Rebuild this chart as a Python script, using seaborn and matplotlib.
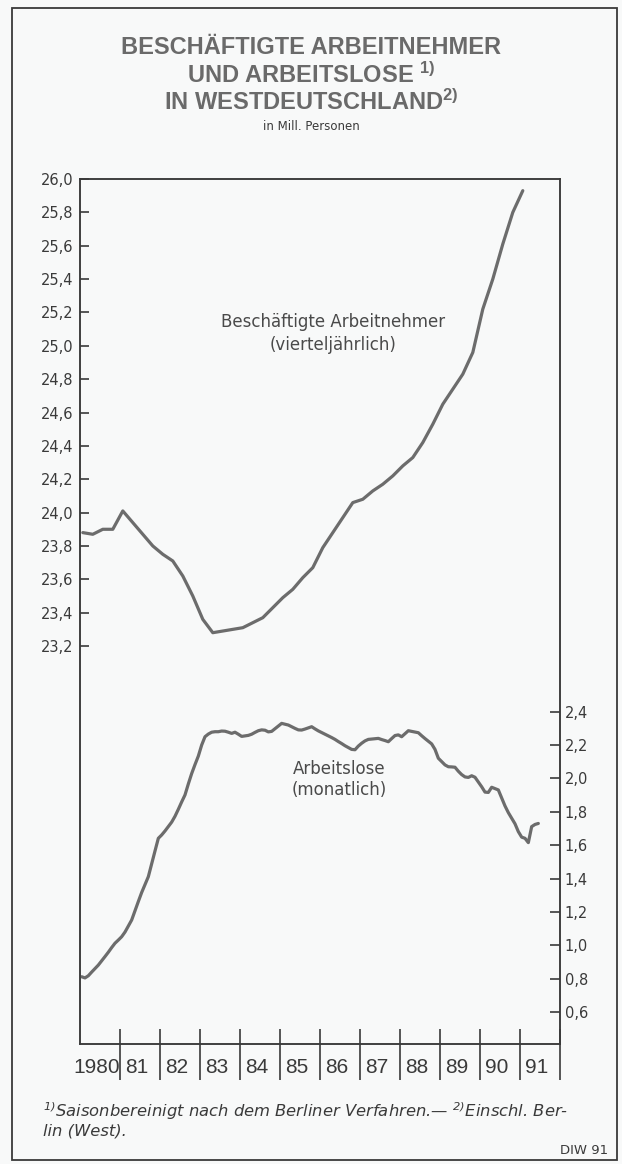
import matplotlib
matplotlib.use("Agg")
import matplotlib.pyplot as plt
from matplotlib.patches import Rectangle
from matplotlib.ticker import FixedLocator
import pandas as pd
import seaborn as sns

# Beschaeftigte Arbeitnehmer, Mill., vierteljaehrlich 1980 Q1 - 1991 Q1
beschaeftigte = [
    23.88, 23.87, 23.90, 23.90, 24.01, 23.94, 23.87, 23.80, 23.75, 23.71,
    23.62, 23.50, 23.36, 23.28, 23.29, 23.30, 23.31, 23.34, 23.37, 23.43,
    23.49, 23.54, 23.61, 23.67, 23.79, 23.88, 23.97, 24.06, 24.08, 24.13,
    24.17, 24.22, 24.28, 24.33, 24.42, 24.53, 24.65, 24.74, 24.83, 24.96,
    25.22, 25.40, 25.61, 25.80, 25.93,
]

# Arbeitslose, Mill., monatlich Jan 1980 - Jun 1991
arbeitslose = [
    0.811, 0.804, 0.817, 0.839, 0.860, 0.881, 0.906, 0.932, 0.958, 0.986, 1.012, 1.031,
    1.051, 1.079, 1.115, 1.151, 1.207, 1.262, 1.316, 1.363, 1.411, 1.489, 1.565, 1.641,
    1.661, 1.685, 1.711, 1.738, 1.773, 1.815, 1.859, 1.901, 1.967, 2.029, 2.083, 2.134,
    2.200, 2.250, 2.266, 2.277, 2.280, 2.280, 2.284, 2.283, 2.277, 2.270, 2.277, 2.265,
    2.252, 2.255, 2.258, 2.265, 2.276, 2.286, 2.291, 2.289, 2.279, 2.282, 2.298, 2.314,
    2.330, 2.325, 2.320, 2.310, 2.300, 2.291, 2.290, 2.296, 2.303, 2.310, 2.297, 2.285,
    2.275, 2.265, 2.255, 2.245, 2.234, 2.221, 2.209, 2.196, 2.185, 2.174, 2.172, 2.194,
    2.211, 2.225, 2.234, 2.236, 2.238, 2.240, 2.233, 2.227, 2.220, 2.239, 2.257, 2.261,
    2.250, 2.268, 2.286, 2.282, 2.278, 2.274, 2.256, 2.239, 2.223, 2.207, 2.174, 2.121,
    2.101, 2.081, 2.070, 2.069, 2.067, 2.043, 2.023, 2.009, 2.006, 2.016, 2.007, 1.979,
    1.950, 1.918, 1.916, 1.947, 1.939, 1.931, 1.883, 1.835, 1.795, 1.761, 1.728, 1.681,
    1.648, 1.641, 1.615, 1.711, 1.724, 1.730,
]

years = list(range(1980, 1992))
year_labels = ["1980", "81", "82", "83", "84", "85", "86", "87", "88", "89", "90", "91"]
left_ticks = [23.2, 23.4, 23.6, 23.8, 24.0, 24.2, 24.4, 24.6, 24.8, 25.0,
              25.2, 25.4, 25.6, 25.8, 26.0]
right_ticks = [0.6, 0.8, 1.0, 1.2, 1.4, 1.6, 1.8, 2.0, 2.2, 2.4]

quarters = pd.period_range("1980Q1", periods=len(beschaeftigte), freq="Q")
df_b = pd.DataFrame({"zeit": quarters.year + (quarters.quarter - 1) / 4 + 0.07,
                     "wert": beschaeftigte})
months = pd.period_range("1980-01", periods=len(arbeitslose), freq="M")
df_a = pd.DataFrame({"zeit": months.year + (months.month - 0.5) / 12,
                     "wert": arbeitslose})

sns.set_style("white")
plt.rcParams["font.family"] = ["DejaVu Sans"]
plt.rcParams["mathtext.default"] = "regular"

bg = "#f8f9f9"
ink = "#3a3a3a"
line_c = "#6c6c6c"
W, H = 622, 1164

fig = plt.figure(figsize=(W / 100, H / 100), dpi=100, facecolor=bg)
ax = fig.add_axes([80 / W, 1 - 1044 / H, 480 / W, 865 / H], facecolor=bg)

sns.lineplot(data=df_b, x="zeit", y="wert", ax=ax, color=line_c, linewidth=2.3)
ax2 = ax.twinx()
sns.lineplot(data=df_a, x="zeit", y="wert", ax=ax2, color=line_c, linewidth=2.3)

px = 166.8  # pixel per Mill.
ax.set_xlim(1980, 1992)
ax.set_ylim(26.0 - 865 / px, 26.0)
ax2.set_ylim(2.4 - (1044 - 711.7) / px, 2.4 + (711.7 - 179) / px)
for a in (ax, ax2):
    a.set_xlabel("")
    a.set_ylabel("")
    for s in a.spines.values():
        s.set_color(ink)
        s.set_linewidth(1.1)

# y axes
ax.set_yticks(left_ticks, [f"{v:.1f}".replace(".", ",") for v in left_ticks])
ax.tick_params(axis="y", left=True, direction="in", length=6.5, width=1.2, pad=5,
               labelsize=10.5, colors=ink)
ax2.set_yticks(right_ticks, [f"{v:.1f}".replace(".", ",") for v in right_ticks])
ax2.tick_params(axis="y", right=True, direction="in", length=7.2, width=1.2, pad=3.5,
                labelsize=10.5, colors=ink)

# x axis: separators crossing the axis, labels between them
bounds = [y + 1 for y in years]
ax.set_xticks(bounds)
ax.xaxis.set_minor_locator(FixedLocator(bounds))
ax.xaxis.remove_overlapping_locs = False
ax.tick_params(axis="x", which="major", bottom=True, direction="in", length=10.8,
               width=1.2, color=ink, labelbottom=False)
ax.tick_params(axis="x", which="minor", bottom=True, direction="out", length=26,
               width=1.2, color=ink, labelbottom=False)
sec = ax.secondary_xaxis("bottom")
sec.set_xticks([y + 0.42 for y in years], year_labels)
sec.tick_params(length=0, pad=10, labelsize=15, colors=ink)
for lab in sec.get_xticklabels():
    lab.set_family(["Liberation Sans", "DejaVu Sans"])
sec.spines["bottom"].set_visible(False)

# series labels
lab_c = "#4a4a4a"
ax.text(1986.33, 25.145, "Beschäftigte Arbeitnehmer", ha="center", va="center",
        fontsize=12, color=lab_c)
ax.text(1986.33, 25.005, "(vierteljährlich)", ha="center", va="center",
        fontsize=12, color=lab_c)
ax2.text(1986.48, 2.055, "Arbeitslose", ha="center", va="center",
         fontsize=12, color=lab_c)
ax2.text(1986.48, 1.931, "(monatlich)", ha="center", va="center",
         fontsize=12, color=lab_c)

# title block
title_c = "#6a6a6a"
tfont = ["Liberation Sans", "DejaVu Sans"]
fig.text(0.5, 1 - 48 / H, "BESCHÄFTIGTE ARBEITNEHMER", ha="center", va="center",
         fontsize=17, fontweight="bold", color=title_c, family=tfont)
fig.text(0.5, 1 - 75 / H, "UND ARBEITSLOSE $^{1)}$", ha="center", va="center",
         fontsize=17, fontweight="bold", color=title_c, family=tfont)
fig.text(0.5, 1 - 102 / H, "IN WESTDEUTSCHLAND$^{2)}$", ha="center", va="center",
         fontsize=17, fontweight="bold", color=title_c, family=tfont)
fig.text(0.5, 1 - 127 / H, "in Mill. Personen", ha="center", va="center",
         fontsize=8.5, color=ink)

# footnote
fig.text(43 / W, 1 - 1111 / H,
         "$^{1)}$Saisonbereinigt nach dem Berliner Verfahren.\u2014 $^{2)}$Einschl. Ber-",
         ha="left", va="center", fontsize=11.8, style="italic", color=ink)
fig.text(43 / W, 1 - 1131 / H, "lin (West).", ha="left", va="center",
         fontsize=11.8, style="italic", color=ink)
fig.text(608 / W, 1 - 1151 / H, "DIW 91", ha="right", va="center",
         fontsize=9.5, color=ink)

# outer frame
fig.patches.append(Rectangle((12 / W, 1 - 1160 / H), 605 / W, 1152 / H,
                             transform=fig.transFigure, fill=False,
                             edgecolor=ink, linewidth=1.3))

fig.savefig("out.png", dpi=100, facecolor=bg)
